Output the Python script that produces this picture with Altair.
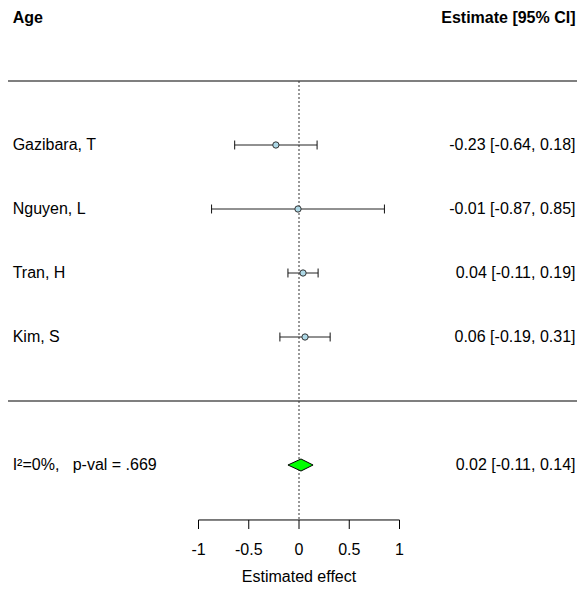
import altair as alt
import pandas as pd

# ---- data ----
studies = ["Gazibara, T", "Nguyen, L", "Tran, H", "Kim, S"]
rows = [4, 3, 2, 1]
est = [-0.23, -0.01, 0.04, 0.06]
lower = [-0.64, -0.87, -0.11, -0.19]
upper = [0.18, 0.85, 0.19, 0.31]

sum_row = -1
sum_est = 0.02
sum_lower = -0.11
sum_upper = 0.14
sum_label = "I\u00b2=0%,\u00a0\u00a0\u00a0p-val = .669"

tick_values = [-1, -0.5, 0, 0.5, 1]
tick_labels = ["-1", "-0.5", "0", "0.5", "1"]

# ---- layout in data units ----
W, H = 569, 576
PX = 100.5          # pixels per x unit
X0 = 291            # pixel of x = 0 inside the chart
XMIN, XMAX = -X0 / PX, (W - X0) / PX
YMIN, YMAX = (393 - H) / 64, 393 / 64
X_LEFT = -2.849
X_RIGHT = (W - 1.5 - X0) / PX
TOP_LINE = 5
MID_LINE = 0
AXIS_ROW = -1.859
TICK_END = -2.0
TICK_LABEL_ROW = -2.328
TITLE_ROW = -2.755
HEADER_ROW = 5.984
CAP = 0.07
DIA = 0.094
FONT = "Liberation Sans"
FS = 16

xs = alt.Scale(domain=[XMIN, XMAX], nice=False, zero=False)
ys = alt.Scale(domain=[YMIN, YMAX], nice=False, zero=False)

def X(f="x"):
    return alt.X(f"{f}:Q", scale=xs, axis=None)

def Y(f="y"):
    return alt.Y(f"{f}:Q", scale=ys, axis=None)

def fmt(v):
    return f"{v:.2f}"

df = pd.DataFrame({
    "study": studies, "y": rows, "est": est, "lo": lower, "hi": upper,
})
df["ci"] = [f"{fmt(e)} [{fmt(l)}, {fmt(u)}]" for e, l, u in zip(est, lower, upper)]
df["ytop"] = df["y"] + CAP
df["ybot"] = df["y"] - CAP
df["xl"] = X_LEFT
df["xr"] = X_RIGHT

sep = pd.DataFrame({"y": [TOP_LINE, MID_LINE], "x": [XMIN, XMIN], "x2": [XMAX, XMAX]})
sep_layer = alt.Chart(sep).mark_rule(color="#555555", strokeWidth=1.6).encode(
    x=X("x"), x2="x2:Q", y=Y("y"))

ref = pd.DataFrame({"x": [0], "y": [TOP_LINE], "y2": [AXIS_ROW]})
ref_layer = alt.Chart(ref).mark_rule(color="#333333", strokeWidth=1, strokeDash=[2, 2]).encode(
    x=X("x"), y=Y("y"), y2="y2:Q")

ci_layer = alt.Chart(df).mark_rule(color="#222222", strokeWidth=1).encode(
    x=X("lo"), x2="hi:Q", y=Y("y"))
capl = alt.Chart(df).mark_rule(color="#111111", strokeWidth=1).encode(
    x=X("lo"), y=Y("ytop"), y2="ybot:Q")
capu = alt.Chart(df).mark_rule(color="#111111", strokeWidth=1).encode(
    x=X("hi"), y=Y("ytop"), y2="ybot:Q")
pts = alt.Chart(df).mark_point(shape="circle", filled=True, size=40, fill="#ADD8E6",
                               stroke="#333333", strokeWidth=1, opacity=1).encode(
    x=X("est"), y=Y("y"))

left_txt = alt.Chart(df).mark_text(align="left", baseline="middle", font=FONT, fontSize=FS,
                                   color="#000000").encode(
    x=X("xl"), y=Y("y"), text="study:N")
right_txt = alt.Chart(df).mark_text(align="right", baseline="middle", font=FONT, fontSize=FS,
                                    color="#000000").encode(
    x=X("xr"), y=Y("y"), text="ci:N")

dia = pd.DataFrame({
    "x": [sum_lower, sum_est, sum_upper],
    "y": [sum_row, sum_row + DIA, sum_row],
    "y2": [sum_row, sum_row - DIA, sum_row],
})
dia_layer = alt.Chart(dia).mark_area(fill="#00FF00", stroke="#000000", strokeWidth=1,
                                     opacity=1, fillOpacity=1).encode(
    x=X("x"), y=Y("y"), y2="y2:Q")

summ = pd.DataFrame({
    "xl": [X_LEFT], "xr": [X_RIGHT], "y": [sum_row], "label": [sum_label],
    "ci": [f"{fmt(sum_est)} [{fmt(sum_lower)}, {fmt(sum_upper)}]"],
})
summ_l = alt.Chart(summ).mark_text(align="left", baseline="middle", font=FONT, fontSize=FS,
                                   color="#000000").encode(x=X("xl"), y=Y("y"), text="label:N")
summ_r = alt.Chart(summ).mark_text(align="right", baseline="middle", font=FONT, fontSize=FS,
                                   color="#000000").encode(x=X("xr"), y=Y("y"), text="ci:N")

hdr = pd.DataFrame({"x": [X_LEFT, X_RIGHT], "y": [HEADER_ROW, HEADER_ROW],
                    "t": ["Age", "Estimate [95% CI]"]})
hdr_l = alt.Chart(hdr.iloc[[0]]).mark_text(align="left", baseline="middle", font=FONT,
                                            fontSize=FS, fontWeight="bold", color="#000000").encode(
    x=X("x"), y=Y("y"), text="t:N")
hdr_r = alt.Chart(hdr.iloc[[1]]).mark_text(align="right", baseline="middle", font=FONT,
                                            fontSize=FS, fontWeight="bold", color="#000000").encode(
    x=X("x"), y=Y("y"), text="t:N")

axis_line = pd.DataFrame({"x": [tick_values[0]], "x2": [tick_values[-1]], "y": [AXIS_ROW]})
ax_line = alt.Chart(axis_line).mark_rule(color="#000000", strokeWidth=1).encode(
    x=X("x"), x2="x2:Q", y=Y("y"))
ticks = pd.DataFrame({"x": tick_values, "lab": tick_labels,
                      "y": [AXIS_ROW] * len(tick_values), "y2": [TICK_END] * len(tick_values),
                      "yl": [TICK_LABEL_ROW] * len(tick_values)})
ax_ticks = alt.Chart(ticks).mark_rule(color="#000000", strokeWidth=1).encode(
    x=X("x"), y=Y("y"), y2="y2:Q")
ax_labels = alt.Chart(ticks).mark_text(align="center", baseline="middle", font=FONT, fontSize=FS,
                                       color="#000000").encode(x=X("x"), y=Y("yl"), text="lab:N")
title_df = pd.DataFrame({"x": [0], "y": [TITLE_ROW], "t": ["Estimated effect"]})
ax_title = alt.Chart(title_df).mark_text(align="center", baseline="middle", font=FONT, fontSize=FS,
                                         color="#000000").encode(x=X("x"), y=Y("y"), text="t:N")

chart = alt.layer(
    sep_layer, ref_layer, ci_layer, capl, capu, pts, dia_layer,
    left_txt, right_txt, summ_l, summ_r, hdr_l, hdr_r,
    ax_line, ax_ticks, ax_labels, ax_title,
).properties(
    width=W, height=H, padding=0, autosize=alt.AutoSizeParams(type="none"),
    background="white",
).configure_view(stroke=None)

chart.save("out.html", embed_options={"renderer": "svg", "actions": False})
